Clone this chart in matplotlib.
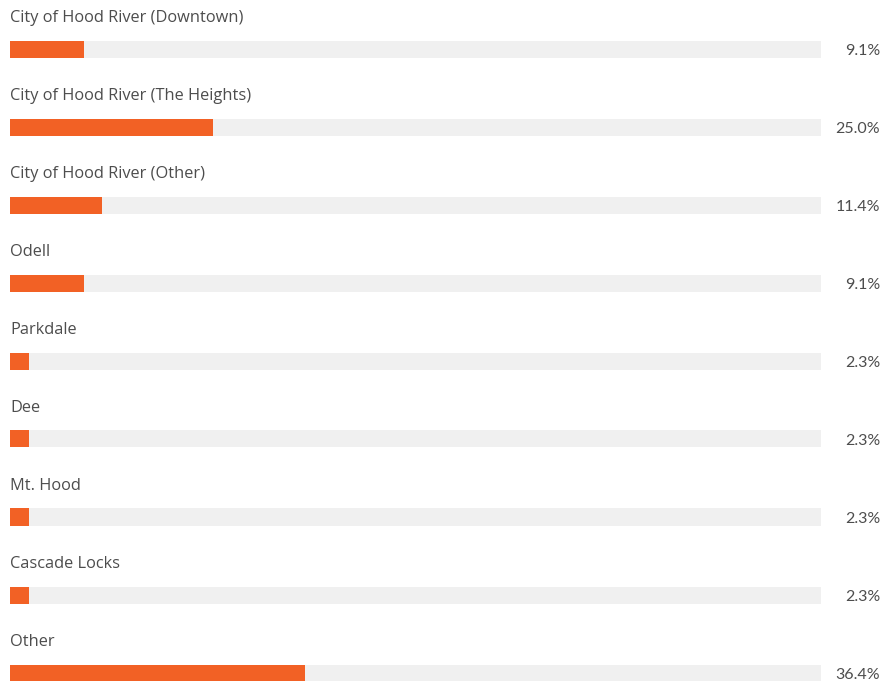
import matplotlib
matplotlib.use("Agg")
import matplotlib.pyplot as plt

labels = ["City of Hood River (Downtown)", "City of Hood River (The Heights)",
          "City of Hood River (Other)", "Odell", "Parkdale", "Dee", "Mt. Hood",
          "Cascade Locks", "Other"]
values = [9.1, 25.0, 11.4, 9.1, 2.3, 2.3, 2.3, 2.3, 36.4]

ORANGE = "#f26125"
TRACK = "#f0f0f0"
TEXT = "#4d4d4d"

plt.rcParams['font.family'] = ['Lato', 'DejaVu Sans']

W, H = 894, 686
fig = plt.figure(figsize=(W / 100, H / 100), dpi=100)
# x: 0..100 percent spans px 10..821; y: one unit per row, 78 px apart
left, right = 10, 821
ax = fig.add_axes([left / W, 0, (right - left) / W, 1])
row_px = 78.0
first = 49.0
ax.set_xlim(0, 100)
ax.set_ylim((H - first) / row_px, -first / row_px)
ax.axis("off")

bh = 17 / row_px
for i, (lab, v) in enumerate(zip(labels, values)):
    ax.barh(i, 100, height=bh, color=TRACK, linewidth=0)
    ax.barh(i, v, height=bh, color=ORANGE, linewidth=0)
    ax.text(0, i - 31.5 / row_px, lab, ha="left", va="center",
            fontsize=11.8, color=TEXT, clip_on=False,
            family=['Open Sans', 'DejaVu Sans'])
    ax.text(100 + 59 * 100 / (right - left), i + 2 / row_px, f"{v:.1f}%",
            ha="right", va="center", fontsize=11.5, color=TEXT, clip_on=False)

fig.savefig("out.png", dpi=100)
